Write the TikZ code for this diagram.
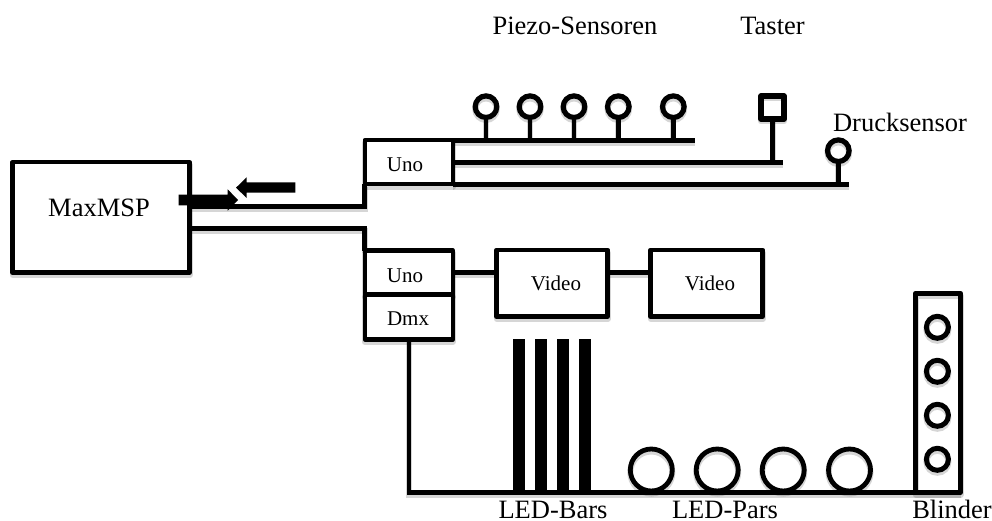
\documentclass[tikz,border=0pt]{standalone}
\usepackage{fontspec}
\setmainfont{Liberation Serif}
\tikzset{
  x=1pt,y=-1pt,
  shad/.style={preaction={draw=black,draw opacity=.16,line width=6pt,transform canvas={yshift=-2.5pt}}},
  wire/.style={draw=black,line width=4.8pt,line join=miter,shad},
  box/.style={draw=black,line width=4.6pt,rectangle,inner sep=0pt,outer sep=0pt,fill=white,line join=round},
  sens/.style={draw=black,line width=5.2pt,circle,inner sep=0pt,outer sep=0pt,minimum size=21.6pt,shad},
  par/.style={draw=black,line width=4.8pt,circle,inner sep=0pt,outer sep=0pt,minimum size=42pt,shad},
  lamp/.style={draw=black,line width=5pt,circle,inner sep=0pt,outer sep=0pt,minimum size=22pt,shad},
  bar/.style={draw=none,fill=black,rectangle,inner sep=0pt,outer sep=0pt,minimum width=12pt},
  big/.style={font=\fontsize{26.5}{26.5}\selectfont,anchor=base,inner sep=0pt},
  small/.style={font=\fontsize{21}{21}\selectfont,anchor=base,inner sep=0pt},
  blk/.style={fill=black,draw=none}
}
\begin{document}
\begin{tikzpicture}
\useasboundingbox (0,0) rectangle (992,521);
% boxes
\node[box,shad,minimum width=177pt,minimum height=110.5pt] (max) at (101,217.4) {};
\node[box,shad,minimum width=88pt,minimum height=44pt] (unoa) at (408.8,162.2) {};
\node[box,shad,minimum width=88pt,minimum height=44pt] (unob) at (408.8,272.5) {};
\node[box,shad,minimum width=88pt,minimum height=44.5pt] (dmx) at (408.8,317.2) {};
\node[box,shad,minimum width=111pt,minimum height=66.5pt] (vida) at (552.2,283.3) {};
\node[box,shad,minimum width=112pt,minimum height=66.5pt] (vidb) at (706.7,283.3) {};
% video chain
\draw[wire] (unob.east) -- (unob.east -| vida.west);
\draw[wire] (unob.east -| vida.east) -- (unob.east -| vidb.west);
% input/output wires
\coordinate (ma) at (189.5,206.7);
\coordinate (mb) at (189.5,228.3);
\draw[wire] (ma) -| (unoa.south west);
\draw[wire] (mb) -| (unob.north west);
% sensor buses
\coordinate (ba) at (695,140.3);
\coordinate (bb) at (783,162.3);
\coordinate (bc) at (849,184.3);
\draw[wire] (unoa.east |- ba) -- (ba);
\draw[wire] (unoa.east |- bb) -- (bb);
\draw[wire] (unoa.east |- bc) -- (bc);
\node[sens] (pa) at (486,106.7) {};
\node[sens] (pb) at (530,106.7) {};
\node[sens] (pc) at (574,106.7) {};
\node[sens] (pd) at (618.3,106.7) {};
\node[sens] (pe) at (673.3,106.7) {};
\foreach \n in {pa,pb,pc,pd,pe}{\draw[wire] (\n.south) -- (\n.south |- ba);}
\node[draw=black,line width=5.4pt,rectangle,inner sep=0pt,outer sep=0pt,minimum size=23pt,line join=round,shad] (tast) at (772.5,107.5) {};
\draw[wire] (tast.south) -- (tast.south |- bb);
\node[sens] (dr) at (838.3,150.7) {};
\draw[wire] (dr.south) -- (dr.south |- bc);
% dmx bus
\coordinate (dmxfoot) at (409,492.3);
\coordinate (busend) at (961,492.3);
\draw[wire] (dmx.south -| dmxfoot) -- (dmxfoot) -- (busend);
\foreach \n/\x in {ba1/519.3,ba2/541.2,ba3/563,ba4/585.3}{
  \node[bar,minimum height=153.5pt] (\n) at (\x,415.5) {};
}
\node[par] (pa1) at (651.3,470) {};
\node[par] (pa2) at (717.2,470) {};
\node[par] (pa3) at (783.2,470) {};
\node[par] (pa4) at (849.5,470) {};
\node[draw=black,line width=5pt,rectangle,inner sep=0pt,outer sep=0pt,minimum width=45pt,minimum height=199pt,line join=round,shad] (bl) at (938,392.8) {};
\node[lamp] (la) at (937.4,327.3) {};
\node[lamp] (lb) at (937.4,371.3) {};
\node[lamp] (lc) at (937.4,415.3) {};
\node[lamp] (ld) at (937.4,459.3) {};
% arrows
\fill[blk] (178.7,194.7) -- (227.7,194.7) -- (227.7,189.3) -- (238,200) -- (227.7,210.7) -- (227.7,205.3) -- (178.7,205.3) -- cycle;
\draw[white,line width=1.6pt] (228.5,188) -- (239.2,198.8);
\fill[blk] (295.3,182.5) -- (246.7,182.5) -- (246.7,177.3) -- (236,187.7) -- (246.7,198) -- (246.7,192.6) -- (295.3,192.6) -- cycle;
% labels
\node[big] (tmax) at (99,216.7) {MaxMSP};
\node[small] (tua) at (405,171.7) {Uno};
\node[small] (tub) at (405,282.3) {Uno};
\node[small] (tdm) at (408,325) {Dmx};
\node[small] (tva) at (556,290) {Video};
\node[small] (tvb) at (710,290) {Video};
\node[big] (tpz) at (575,34.3) {Piezo-Sensoren};
\node[big] (tta) at (772.5,34.3) {Taster};
\node[big] (tdr) at (900,131.7) {Drucksensor};
\node[big] (tlb) at (553,518) {LED-Bars};
\node[big] (tlp) at (725,518) {LED-Pars};
\node[big] (tbl) at (952,518) {Blinder};
\end{tikzpicture}
\end{document}
